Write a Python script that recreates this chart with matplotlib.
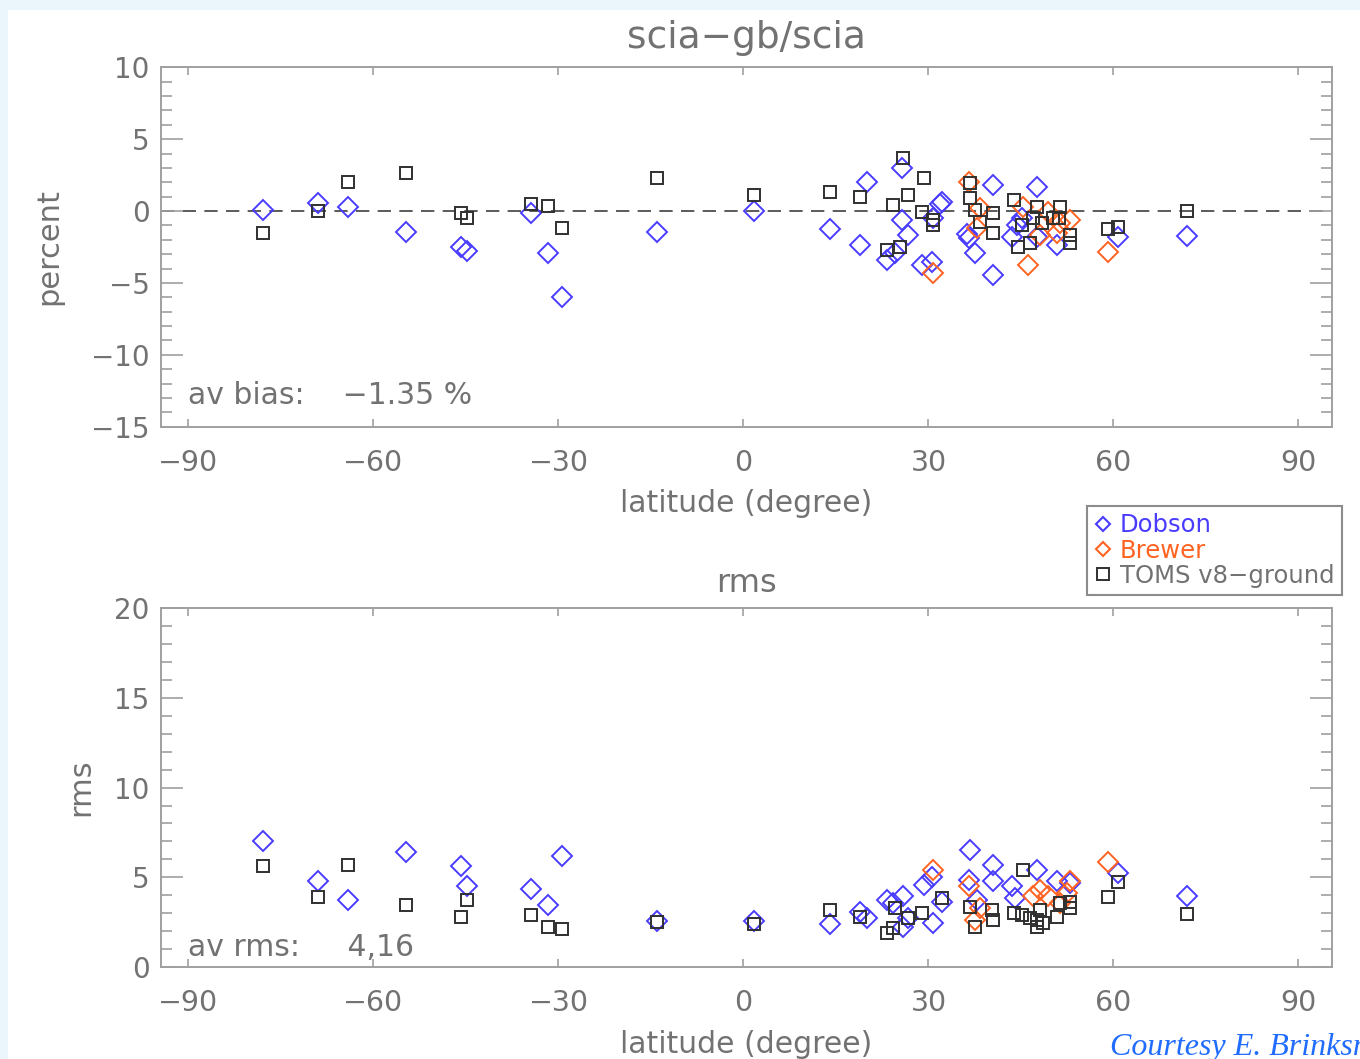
import matplotlib
matplotlib.use('Agg')
import matplotlib.pyplot as plt
from matplotlib.lines import Line2D
from matplotlib.patches import Rectangle
from matplotlib.ticker import MultipleLocator

# ---- data ----
# top panel: scia-gb/scia bias (percent)
dob_lat = [-77.9, -69.0, -64.1, -54.8, -45.8, -44.8, -34.4, -31.65, -29.4, -14.0, 1.7, 14.0,
           20.0, 25.7, 32.2, 31.8, 30.8, 25.7, 26.7, 18.9, 23.2, 24.6, 28.9, 30.5, 40.5, 47.6,
           36.5, 36.2, 37.5, 40.5, 43.5, 44.3, 45.1, 50.8, 47.6, 60.7, 71.9]
dob_bias = [0.07, 0.56, 0.28, -1.46, -2.5, -2.8, -0.14, -2.9, -6.0, -1.46, 0.0, -1.25,
            2.04, 2.97, 0.65, 0.5, -0.51, -0.63, -1.67, -2.37, -3.41, -2.95, -3.76, -3.53, 1.81, 1.69,
            -1.9, -1.6, -2.95, -4.46, -1.79, -0.97, -0.51, -2.37, -1.79, -1.8, -1.74]

brw_lat = [36.5, 38.4, 37.8, 30.8, 46.2, 45.4, 48.1, 49.4, 51.3, 52.9, 50.8, 59.1]
brw_bias = [2.04, 0.19, -1.2, -4.34, -3.76, 0.3, -1.67, -0.05, -0.86, -0.63, -1.55, -2.86]

toms_lat = [-77.9, -69.0, -64.1, -54.8, -45.8, -44.8, -34.4, -31.65, -29.4, -14.0, 1.7, 14.0,
            18.9, 25.9, 29.2, 26.7, 24.3, 28.9, 30.8, 30.8, 23.2, 25.4, 36.7, 36.7, 37.5, 40.5,
            40.5, 38.4, 43.8, 47.6, 44.6, 46.5, 47.0, 48.4, 50.2, 51.3, 51.1, 52.9, 52.9, 45.1,
            59.1, 60.7, 71.9]
toms_bias = [-1.53, 0.0, 2.0, 2.65, -0.14, -0.49, 0.49, 0.35, -1.18, 2.3, 1.1, 1.3,
             0.97, 3.67, 2.28, 1.11, 0.42, -0.05, -0.6, -1.0, -2.72, -2.49, 1.93, 0.88, 0.07, -0.16,
             -1.55, -0.75, 0.77, 0.3, -2.49, -2.25, -0.51, -0.86, -0.51, 0.3, -0.51, -1.67, -2.25, -0.98,
             -1.25, -1.1, 0.0]

# bottom panel: rms
dob_lat2 = [-77.9, -69.0, -64.1, -54.8, -45.8, -44.8, -34.4, -31.65, -29.4, -14.0, 1.7, 14.0,
            18.9, 20.0, 23.2, 25.9, 24.3, 25.9, 26.7, 29.2, 30.5, 30.8, 32.2, 36.7, 36.5, 40.5,
            40.5, 37.8, 43.5, 44.0, 47.6, 50.8, 52.9, 60.7, 71.9]
dob_rms = [7.04, 4.8, 3.74, 6.42, 5.64, 4.5, 4.36, 3.46, 6.2, 2.57, 2.57, 2.4,
           3.09, 2.72, 3.74, 3.93, 3.56, 2.25, 2.72, 4.58, 5.04, 2.44, 3.65, 6.54, 4.86, 5.7,
           4.77, 3.74, 4.49, 3.84, 5.42, 4.77, 4.7, 5.25, 3.97]

brw_lat2 = [30.8, 36.5, 38.4, 37.5, 47.0, 48.1, 49.4, 51.3, 52.9, 52.4, 59.1]
brw_rms = [5.42, 4.49, 3.28, 2.63, 3.93, 4.3, 3.93, 3.56, 4.77, 4.12, 5.87]

toms_lat2 = [-77.9, -69.0, -64.1, -54.8, -45.8, -44.8, -34.4, -31.65, -29.4, -14.0, 1.7, 14.0,
             18.9, 23.2, 24.3, 24.6, 26.7, 28.9, 32.2, 36.7, 40.3, 40.5, 37.5, 45.4, 43.8, 45.1,
             46.5, 47.6, 47.6, 48.1, 48.6, 50.8, 51.3, 52.9, 52.9, 59.1, 60.7, 71.9]
toms_rms = [5.64, 3.91, 5.7, 3.46, 2.79, 3.74, 2.9, 2.23, 2.12, 2.51, 2.4, 3.18,
            2.8, 1.88, 2.16, 3.28, 2.72, 3.0, 3.84, 3.37, 3.18, 2.63, 2.25, 5.42, 3.0, 2.9,
            2.72, 2.63, 2.25, 3.18, 2.44, 2.81, 3.56, 3.65, 3.28, 3.91, 4.75, 2.96]

blue = '#4a3cff'
orange = '#ff6322'
black = '#303030'
gray = '#727272'
axcol = '#a0a0a0'

fig = plt.figure(figsize=(13.6, 10.59), dpi=100)
fig.patch.set_facecolor('#eaf5fc')
fig.add_artist(Rectangle((8 / 1360, 0), 1, 1 - 10 / 1059, transform=fig.transFigure,
                         facecolor='white', edgecolor='none', zorder=-10))

ax1 = fig.add_axes([0.1182, 0.5971, 0.8610, 0.3394])
ax2 = fig.add_axes([0.1182, 0.0869, 0.8610, 0.3387])


def style(ax, ymaj):
    ax.set_xlim(-94.5, 95.4)
    ax.xaxis.set_major_locator(MultipleLocator(30))
    ax.yaxis.set_major_locator(MultipleLocator(ymaj))
    ax.yaxis.set_minor_locator(MultipleLocator(1))
    ax.tick_params(axis='y', which='major', direction='in', length=16, width=1.2,
                   color=axcol, left=True, right=True, labelsize=20, labelcolor=gray, pad=8)
    ax.tick_params(axis='y', which='minor', direction='in', length=8, width=1.2,
                   color=axcol, left=True, right=True)
    ax.tick_params(axis='x', which='major', direction='in', length=6, width=1.2,
                   color=axcol, top=True, bottom=True, labelsize=20.5, labelcolor=gray, pad=16)
    for sp in ax.spines.values():
        sp.set_color(axcol)
        sp.set_linewidth(1.4)
    ax.set_xlabel('latitude (degree)', fontsize=21.5, color=gray, labelpad=9)


dmk = dict(linestyle='none', markerfacecolor='none', markersize=10.5, markeredgewidth=1.4)
smk = dict(linestyle='none', markerfacecolor='none', markersize=8.5, markeredgewidth=1.4)

# top panel
ax1.axhline(0, color='#404040', linestyle=(0, (8, 5)), linewidth=1.2, zorder=1)
ax1.plot(dob_lat, dob_bias, marker='D', markeredgecolor=blue, **dmk)
ax1.plot(brw_lat, brw_bias, marker='D', markeredgecolor=orange, **dmk)
ax1.plot(toms_lat, toms_bias, marker='s', markeredgecolor=black, **smk)
ax1.set_ylim(-15, 10)
style(ax1, 5)
ax1.set_ylabel('percent', fontsize=22, color=gray, labelpad=20)
ax1.set_title('scia\u2212gb/scia', fontsize=27, color=gray, pad=14)
ax1.text(0.023, 0.088, 'av bias:    \u22121.35 %', transform=ax1.transAxes,
         fontsize=21.5, color=gray, va='center')

# bottom panel
ax2.plot(dob_lat2, dob_rms, marker='D', markeredgecolor=blue, **dmk)
ax2.plot(brw_lat2, brw_rms, marker='D', markeredgecolor=orange, **dmk)
ax2.plot(toms_lat2, toms_rms, marker='s', markeredgecolor=black, **smk)
ax2.set_ylim(0, 20)
style(ax2, 5)
ax2.set_ylabel('rms', fontsize=22, color=gray, labelpad=14)
ax2.set_title('rms', fontsize=23, color=gray, pad=12)
ax2.text(0.023, 0.053, 'av rms:     4,16', transform=ax2.transAxes,
         fontsize=21.5, color=gray, va='center')

handles = [
    Line2D([], [], marker='D', color=blue, markerfacecolor='none', markersize=7,
           markeredgewidth=1.5, linestyle='none'),
    Line2D([], [], marker='D', color=orange, markerfacecolor='none', markersize=7,
           markeredgewidth=1.5, linestyle='none'),
    Line2D([], [], marker='s', color=black, markerfacecolor='none', markersize=8,
           markeredgewidth=1.4, linestyle='none'),
]
leg = fig.legend(handles, ['Dobson', 'Brewer', 'TOMS v8\u2212ground'],
                 loc='upper left', bbox_to_anchor=(1087 / 1360, 1 - 506 / 1059),
                 fontsize=17.5, frameon=True, fancybox=False, handlelength=0.7,
                 handletextpad=0.35, labelspacing=0.05, borderpad=0.3, borderaxespad=0)
leg.get_frame().set_edgecolor('#707070')
leg.get_frame().set_linewidth(1.5)
for t, c in zip(leg.get_texts(), [blue, orange, gray]):
    t.set_color(c)

fig.text(1110 / 1360, 1 - 1055 / 1059, 'Courtesy E. Brinksma', fontsize=23,
         family='Liberation Serif', style='italic', color='#1f6cff', va='baseline')

fig.savefig('out.png', dpi=100, facecolor=fig.get_facecolor())
